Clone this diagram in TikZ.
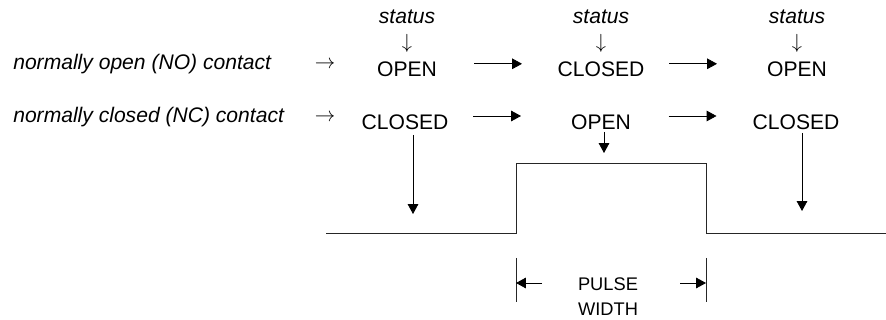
\documentclass[tikz,border=0pt]{standalone}
\usepackage{fontspec}
\setmainfont{Liberation Sans}
\usepackage{tikz}
\usetikzlibrary{arrows.meta, positioning, calc}

\begin{document}
\begin{tikzpicture}[
  state/.style={inner sep=0pt, anchor=base, font=\fontsize{15}{18}\selectfont},
  contact/.style={inner sep=0pt, anchor=base west, font=\fontsize{15}{18}\selectfont\itshape},
  glyph/.style={inner sep=0pt, anchor=center, font=\fontsize{21}{24}\selectfont, scale=0.7, transform shape},
  flow/.style={-{Triangle[length=7pt, width=7.5pt]}, line width=0.6pt},
  wave/.style={line width=0.6pt, black!85}
]
\useasboundingbox (0,0) rectangle (22.15,8);

% Status headings
\node[state, font=\fontsize{15}{18}\selectfont\itshape] (st1) at (10.175, 7.4) {status};
\node[state, font=\fontsize{15}{18}\selectfont\itshape] (st2) at (15.025, 7.4) {status};
\node[state, font=\fontsize{15}{18}\selectfont\itshape] (st3) at (19.925, 7.4) {status};
\node[glyph] (dn1) at (10.175, 6.92) {$\downarrow$};
\node[glyph] (dn2) at (15.025, 6.92) {$\downarrow$};
\node[glyph] (dn3) at (19.925, 6.92) {$\downarrow$};

% Row 1: NO contact
\node[contact] (lno) at (0.325, 6.25) {normally open (NO) contact};
\node[glyph] (rno) at (8.125, 6.375) {$\rightarrow$};
\node[state] (no1) at (10.175, 6.075) {OPEN};
\node[state] (no2) at (15.025, 6.075) {CLOSED};
\node[state] (no3) at (19.925, 6.075) {OPEN};

% Row 2: NC contact
\node[contact] (lnc) at (0.325, 4.925) {normally closed (NC) contact};
\node[glyph] (rnc) at (8.125, 5.05) {$\rightarrow$};
\node[state] (nc1) at (10.125, 4.75) {CLOSED};
\node[state] (nc2) at (15.025, 4.75) {OPEN};
\node[state] (nc3) at (19.9, 4.75) {CLOSED};

% Transitions
\draw[flow] ($(no1.base)!0.5!(no2.base)+(-0.75,0.33)$) -- ++(1.2,0);
\draw[flow] ($(no2.base)!0.5!(no3.base)+(-0.75,0.33)$) -- ++(1.2,0);
\draw[flow] ($(nc1.base)!0.5!(nc2.base)+(-0.75,0.35)$) -- ++(1.2,0);
\draw[flow] ($(nc2.base)!0.5!(nc3.base)+(-0.75,0.35)$) -- ++(1.2,0);

% Pulse
\coordinate (lo) at (8.15, 2.175);
\coordinate (rise) at (12.9, 2.175);
\coordinate (fall) at (17.65, 2.175);
\coordinate (hi) at (22.15, 2.175);
\draw[wave] (lo) -- (rise) -- ++(0,1.75) -| (fall) -- (hi);

% Contact to pulse
\draw[flow] ([xshift=0.2cm, yshift=-0.125cm]nc1.base) -- ++(0,-1.975);
\draw[flow] ([xshift=0.075cm, yshift=-0.05cm]nc2.base) -- ++(0,-0.525);
\draw[flow] ([xshift=0.15cm, yshift=-0.075cm]nc3.base) -- ++(0,-1.95);

% Pulse width
\draw[wave] ([yshift=-0.625cm]rise) -- ++(0,-1.1);
\draw[wave] ([yshift=-0.625cm]fall) -- ++(0,-1.1);
\draw[flow] ($(rise)+(0.65,-1.25)$) -- ++(-0.65,0);
\draw[flow] ($(fall)+(-0.65,-1.25)$) -- ++(0.65,0);
\node[inner sep=0pt, align=center, font=\fontsize{13}{17.8}\selectfont] (pw) at (15.2, 0.575) {PULSE\\WIDTH};
\end{tikzpicture}
\end{document}
